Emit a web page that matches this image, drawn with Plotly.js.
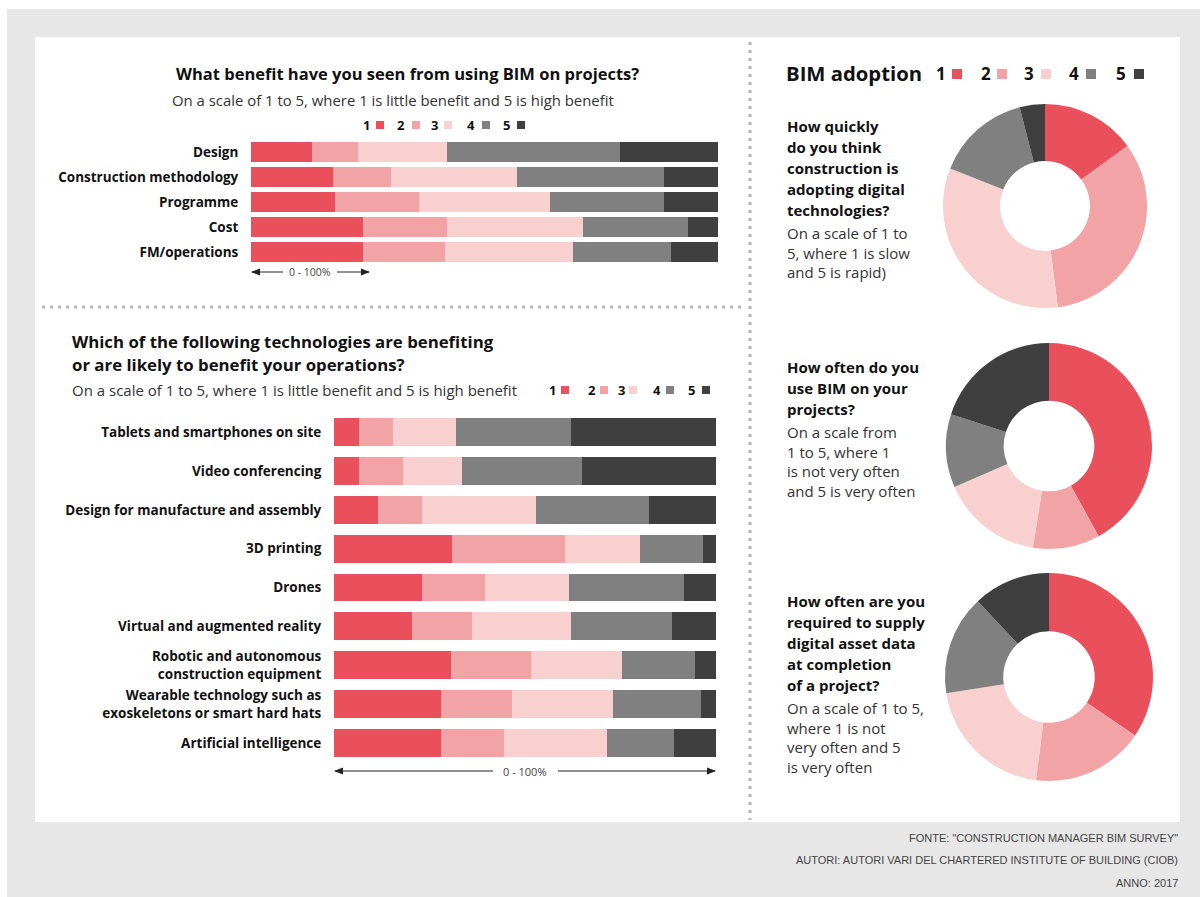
<!DOCTYPE html>
<html><head><meta charset="utf-8">
<script src="https://cdn.plot.ly/plotly-3.0.1.min.js"></script>
<style>html,body{margin:0;padding:0;background:#e7e7e7}#chart{width:1200px;height:897px}</style>
</head><body><div id="chart"></div>
<script>
// ---------- data ----------
const levels = ['1', '2', '3', '4', '5'];
const levelColors = ['#e9505b', '#f2a3a6', '#f8d0d0', '#808080', '#3f3f3f'];

const benefitCategories = ['Design', 'Construction methodology', 'Programme', 'Cost', 'FM/operations'];
const benefit1 = [13, 17.5, 18, 24, 24];
const benefit2 = [10, 12.5, 18, 18, 17.5];
const benefit3 = [19, 27, 28, 29, 27.5];
const benefit4 = [37, 31.5, 24.5, 22.5, 21];
const benefit5 = [21, 11.5, 11.5, 6.5, 10];

const techCategories = [
  'Tablets and smartphones on site',
  'Video conferencing',
  'Design for manufacture and assembly',
  '3D printing',
  'Drones',
  'Virtual and augmented reality',
  'Robotic and autonomous<br>construction equipment',
  'Wearable technology such as<br>exoskeletons or smart hard hats',
  'Artificial intelligence'
];
const tech1 = [6.5, 6.5, 11.5, 31, 23, 20.5, 30.5, 28, 28];
const tech2 = [9, 11.5, 11.5, 29.5, 16.5, 15.5, 21, 18.5, 16.5];
const tech3 = [16.5, 15.5, 30, 19.5, 22, 26, 24, 26.5, 27];
const tech4 = [30, 31.5, 29.5, 16.5, 30, 26.5, 19, 23, 17.5];
const tech5 = [38, 35, 17.5, 3.5, 8.5, 11.5, 5.5, 4, 11];

const adoptionSpeed = [15, 33, 33, 15, 4];
const bimUse = [42, 10.5, 16, 11.5, 20];
const assetData = [34.5, 17.5, 20.5, 15.5, 12];

// ---------- helpers ----------
const W = 1200, H = 897;
const X = p => p / W;
const Y = p => 1 - p / H;
const FONT = '"Open Sans", Roboto, Arial, sans-serif';

const benefitSeries = [benefit1, benefit2, benefit3, benefit4, benefit5];
const techSeries = [tech1, tech2, tech3, tech4, tech5];

const traces = [];
benefitSeries.forEach((vals, i) => traces.push({
  type: 'bar', orientation: 'h', y: benefitCategories, x: vals, name: levels[i],
  xaxis: 'x', yaxis: 'y', width: 0.8, marker: {color: levelColors[i], line: {width: 0}},
  showlegend: false, hoverinfo: 'x+y'
}));
techSeries.forEach((vals, i) => traces.push({
  type: 'bar', orientation: 'h', y: techCategories, x: vals, name: levels[i],
  xaxis: 'x2', yaxis: 'y2', width: 0.72, marker: {color: levelColors[i], line: {width: 0}},
  showlegend: false, hoverinfo: 'x+y'
}));

function donut(values, cx, cy, r) {
  return {
    type: 'pie', values: values, labels: levels, sort: false, direction: 'clockwise', rotation: 0,
    hole: 0.44, textinfo: 'none', showlegend: false,
    marker: {colors: levelColors, line: {width: 0}},
    domain: {x: [X(cx - r), X(cx + r)], y: [Y(cy + r), Y(cy - r)]}
  };
}
traces.push(donut(adoptionSpeed, 1045, 206, 102));
traces.push(donut(bimUse, 1049, 446, 103));
traces.push(donut(assetData, 1049, 677, 104));

// ---------- annotations ----------
const annotations = [];
function txt(text, x, y, o = {}) {
  annotations.push({
    text: text, xref: 'paper', yref: 'paper', x: X(x), y: Y(y), showarrow: false,
    xanchor: o.anchor || 'left', yanchor: 'middle',
    font: {family: o.family || FONT, size: o.size || 14, color: o.color || '#111', weight: o.weight || 400}
  });
}
// top chart
txt('What benefit have you seen from using BIM on projects?', 407, 73, {anchor: 'center', size: 16.5, weight: 700});
txt('On a scale of 1 to 5, where 1 is little benefit and 5 is high benefit', 393, 100, {anchor: 'center', size: 14.9, color: '#333'});
// bottom chart
txt('Which of the following technologies are benefiting', 70, 342, {size: 16.8, weight: 700});
txt('or are likely to benefit your operations?', 70, 364, {size: 16.8, weight: 700});
txt('On a scale of 1 to 5, where 1 is little benefit and 5 is high benefit', 70, 390, {size: 15, color: '#333'});
// right
txt('BIM adoption', 784, 73, {size: 20.3, weight: 700});

const q1b = ['How quickly', 'do you think', 'construction is', 'adopting digital', 'technologies?'];
const q1r = ['On a scale of 1 to', '5, where 1 is slow', 'and 5 is rapid)'];
const q2b = ['How often do you', 'use BIM on your', 'projects?'];
const q2r = ['On a scale from', '1 to 5, where 1', 'is not very often', 'and 5 is very often'];
const q3b = ['How often are you', 'required to supply', 'digital asset data', 'at completion', 'of a project?'];
const q3r = ['On a scale of 1 to 5,', 'where 1 is not', 'very often and 5', 'is very often'];
function block(bold, reg, y0) {
  bold.forEach((t, i) => txt(t, 785, y0 + i * 21, {size: 15, weight: 700}));
  const yr = y0 + bold.length * 21 + 2;
  reg.forEach((t, i) => txt(t, 785, yr + i * 19.7, {size: 15, color: '#333'}));
}
block(q1b, q1r, 126);
block(q2b, q2r, 367);
block(q3b, q3r, 601);

// footer
const FF = 'Liberation Sans, Arial, sans-serif';
txt('FONTE: "CONSTRUCTION MANAGER BIM SURVEY"', 1180, 838, {anchor: 'right', size: 11, color: '#444', family: FF});
txt('AUTORI: AUTORI VARI DEL CHARTERED INSTITUTE OF BUILDING (CIOB)', 1180, 860, {anchor: 'right', size: 11, color: '#444', family: FF});
txt('ANNO: 2017', 1180, 883, {anchor: 'right', size: 11, color: '#444', family: FF});

// scale captions
txt('0 - 100%', 310, 272, {anchor: 'center', size: 10.5, color: '#444'});
txt('0 - 100%', 525, 771, {anchor: 'center', size: 11, color: '#444'});

// ---------- shapes ----------
const shapes = [];
shapes.push({type: 'rect', xref: 'paper', yref: 'paper', x0: 0, x1: 1, y0: Y(9), y1: 1, fillcolor: '#ffffff', line: {width: 0}, layer: 'below'});
shapes.push({type: 'rect', xref: 'paper', yref: 'paper', x0: 0, x1: X(7), y0: 0, y1: 1, fillcolor: '#ffffff', line: {width: 0}, layer: 'below'});
shapes.push({type: 'rect', xref: 'paper', yref: 'paper', x0: X(35), x1: X(1180), y0: Y(822), y1: Y(37), fillcolor: '#ffffff', line: {width: 0}, layer: 'below'});
// dotted separators
shapes.push({type: 'line', xref: 'paper', yref: 'paper', x0: X(750), x1: X(750), y0: Y(42), y1: Y(820), line: {color: '#b5b5b5', width: 3, dash: '3px,5px'}, layer: 'below'});
shapes.push({type: 'line', xref: 'paper', yref: 'paper', x0: X(42), x1: X(742), y0: Y(307), y1: Y(307), line: {color: '#b5b5b5', width: 3, dash: '3px,5px'}, layer: 'below'});

// arrows
function arrow(x0, x1, y) {
  shapes.push({type: 'line', xref: 'paper', yref: 'paper', x0: X(x0), x1: X(x1), y0: Y(y), y1: Y(y), line: {color: '#222', width: 1}});
  const d = x1 > x0 ? 1 : -1;
  shapes.push({type: 'path', xref: 'paper', yref: 'paper',
    path: `M ${X(x1 + d)} ${Y(y)} L ${X(x1 - d * 8)} ${Y(y - 3.5)} L ${X(x1 - d * 8)} ${Y(y + 3.5)} Z`,
    fillcolor: '#222', line: {width: 0}});
}
arrow(283, 252, 272); arrow(337, 369, 272);
arrow(493, 335, 771); arrow(558, 715, 771);

// legends
function legend(digitX, sqX, y, size, sq, dy) {
  levels.forEach((l, i) => {
    txt(l, digitX[i], y, {anchor: 'center', size: size, weight: 700});
    shapes.push({type: 'rect', xref: 'paper', yref: 'paper',
      x0: X(sqX[i] - sq / 2), x1: X(sqX[i] + sq / 2), y0: Y(y + dy + sq / 2), y1: Y(y + dy - sq / 2),
      fillcolor: levelColors[i], line: {width: 0}});
  });
}
legend([366, 401, 434, 471, 506], [380, 416, 448, 486, 521], 125, 13, 8, 0);
legend([552, 592, 621, 657, 691], [565, 604, 633, 670, 706], 390, 13, 8, 0);
legend([941, 986, 1029, 1074, 1121], [957, 1002, 1046, 1091, 1139], 74, 17, 10, 0);

// ---------- layout ----------
const tickFont = {family: FONT, size: 13.5, color: '#111', weight: 700};
const layout = {
  width: W, height: H, margin: {l: 0, r: 0, t: 0, b: 0},
  paper_bgcolor: '#e7e7e7', plot_bgcolor: 'rgba(0,0,0,0)',
  barmode: 'stack', showlegend: false,
  xaxis: {domain: [X(251), X(718)], range: [0, 100], visible: false, fixedrange: true},
  yaxis: {domain: [Y(264.5), Y(139.5)], type: 'category', autorange: 'reversed', anchor: 'x',
    showgrid: false, zeroline: false, showline: false, ticks: 'outside', ticklen: 9, tickcolor: 'rgba(0,0,0,0)',
    tickfont: tickFont},
  xaxis2: {domain: [X(334), X(716)], range: [0, 100], visible: false, anchor: 'y2', fixedrange: true},
  yaxis2: {domain: [Y(762.4), Y(412.6)], type: 'category', autorange: 'reversed', anchor: 'x2',
    showgrid: false, zeroline: false, showline: false, ticks: 'outside', ticklen: 9, tickcolor: 'rgba(0,0,0,0)',
    tickfont: tickFont},
  annotations: annotations, shapes: shapes
};
Plotly.newPlot('chart', traces, layout, {displayModeBar: false, staticPlot: true});
</script>
</body></html>
